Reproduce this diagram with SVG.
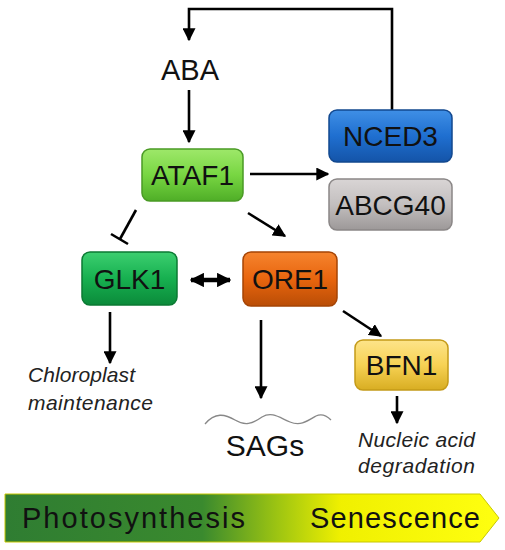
<svg xmlns="http://www.w3.org/2000/svg" width="505" height="550" viewBox="0 0 505 550">
<defs>
<style>
.t{font-family:"Liberation Sans",Arial,sans-serif;fill:#111;text-anchor:middle}
.bx{font-size:28px}
.it{font-family:"Liberation Sans",Arial,sans-serif;font-style:italic;font-size:21px;fill:#222}
.ln{stroke:#000;stroke-width:2.6;fill:none}
</style>
<marker id="ah" viewBox="0 0 10 10" refX="9" refY="5" markerWidth="5" markerHeight="5" orient="auto" markerUnits="strokeWidth"><path d="M0,0 L10,5 L0,10 z" fill="#000"/></marker>
<marker id="ahs" viewBox="0 0 10 10" refX="9" refY="5" markerWidth="3.2" markerHeight="3.2" orient="auto-start-reverse" markerUnits="strokeWidth"><path d="M0,0 L10,5 L0,10 z" fill="#000"/></marker>
<linearGradient id="gAT" x1="0" y1="0" x2="0" y2="1"><stop offset="0" stop-color="#9ee86a"/><stop offset="0.5" stop-color="#78d642"/><stop offset="1" stop-color="#4fae27"/></linearGradient>
<linearGradient id="gGL" x1="0" y1="0" x2="0" y2="1"><stop offset="0" stop-color="#3ccf70"/><stop offset="0.5" stop-color="#17b050"/><stop offset="1" stop-color="#0b8a3a"/></linearGradient>
<linearGradient id="gOR" x1="0" y1="0" x2="0" y2="1"><stop offset="0" stop-color="#f6842e"/><stop offset="0.5" stop-color="#e8650e"/><stop offset="1" stop-color="#b94d06"/></linearGradient>
<linearGradient id="gNC" x1="0" y1="0" x2="0" y2="1"><stop offset="0" stop-color="#3f8fe6"/><stop offset="0.5" stop-color="#1f6fd0"/><stop offset="1" stop-color="#1454a8"/></linearGradient>
<linearGradient id="gAB" x1="0" y1="0" x2="0" y2="1"><stop offset="0" stop-color="#d9d5d5"/><stop offset="0.5" stop-color="#c3bfbf"/><stop offset="1" stop-color="#9c9898"/></linearGradient>
<linearGradient id="gBF" x1="0" y1="0" x2="0" y2="1"><stop offset="0" stop-color="#fde48a"/><stop offset="0.5" stop-color="#f7d254"/><stop offset="1" stop-color="#d8ad22"/></linearGradient>
<linearGradient id="gBar" x1="0" y1="0" x2="1" y2="0"><stop offset="0" stop-color="#2f7d32"/><stop offset="0.4" stop-color="#3a8a2e"/><stop offset="0.55" stop-color="#9cc412"/><stop offset="0.68" stop-color="#f0f000"/><stop offset="1" stop-color="#ffff10"/></linearGradient>
</defs>
<g id="connectors">
<polyline class="ln" points="392,110 392,9 189,9 189,40" marker-end="url(#ah)"/>
<line class="ln" x1="189" y1="90" x2="189" y2="142" marker-end="url(#ah)"/>
<line class="ln" x1="250" y1="174" x2="328" y2="174" marker-end="url(#ah)"/>
<line class="ln" x1="136" y1="210" x2="120" y2="239"/>
<line class="ln" x1="111" y1="234" x2="128" y2="244"/>
<line class="ln" x1="248" y1="213" x2="285" y2="236" marker-end="url(#ah)"/>
<line x1="191" y1="280" x2="230" y2="280" stroke="#000" stroke-width="4.5" marker-start="url(#ahs)" marker-end="url(#ahs)"/>
<line class="ln" x1="110" y1="312" x2="110" y2="363" marker-end="url(#ah)"/>
<line class="ln" x1="261" y1="320" x2="261" y2="398" marker-end="url(#ah)"/>
<line class="ln" x1="343" y1="311" x2="381" y2="336" marker-end="url(#ah)"/>
<line class="ln" x1="397" y1="396" x2="397" y2="423" marker-end="url(#ah)"/>
</g>
<g id="ABA"><text class="t" x="190" y="80" font-size="29">ABA</text></g>
<g id="ATAF1"><rect x="142" y="149" width="101" height="52" rx="8" fill="url(#gAT)" stroke="#4a9a25" stroke-width="1.5"/><text class="t bx" x="192.5" y="185">ATAF1</text></g>
<g id="NCED3"><rect x="329" y="110" width="123" height="52" rx="8" fill="url(#gNC)" stroke="#12488f" stroke-width="1.5"/><text class="t bx" x="390.5" y="146">NCED3</text></g>
<g id="ABCG40"><rect x="329" y="179" width="123" height="51" rx="8" fill="url(#gAB)" stroke="#8a8686" stroke-width="1.5"/><text class="t bx" x="390.5" y="215">ABCG40</text></g>
<g id="GLK1"><rect x="82" y="252" width="95" height="53" rx="8" fill="url(#gGL)" stroke="#0b7a33" stroke-width="1.5"/><text class="t bx" x="129.5" y="289">GLK1</text></g>
<g id="ORE1"><rect x="243" y="252" width="94" height="54" rx="8" fill="url(#gOR)" stroke="#a54405" stroke-width="1.5"/><text class="t bx" x="290" y="289">ORE1</text></g>
<g id="BFN1"><rect x="355" y="340" width="93" height="50" rx="8" fill="url(#gBF)" stroke="#c49a18" stroke-width="1.5"/><text class="t bx" x="401.5" y="375">BFN1</text></g>
<g id="chloroplast"><text class="it" x="28" y="382" textLength="107">Chloroplast</text><text class="it" x="28" y="410" textLength="125">maintenance</text></g>
<g id="SAGs"><path d="M205,424 C215,412 225,414 235,420 C245,426 252,424 262,417 C272,411 280,418 290,422 C300,426 306,422 316,416 C322,413 327,416 331,420" fill="none" stroke="#888" stroke-width="1.3"/><text class="t" x="265" y="456" font-size="30">SAGs</text></g>
<g id="nucleic"><text class="it" x="358" y="447" textLength="117">Nucleic acid</text><text class="it" x="358" y="473" textLength="117">degradation</text></g>
<g id="bar"><path d="M5,494 L480,494 L499,518 L480,542 L5,542 Z" fill="url(#gBar)" stroke="#c8c800" stroke-width="1"/><text x="22" y="528" font-family="Liberation Sans,Arial,sans-serif" font-size="29" fill="#111" textLength="223">Photosynthesis</text><text x="310" y="528" font-family="Liberation Sans,Arial,sans-serif" font-size="29" fill="#111" textLength="170">Senescence</text></g>
</svg>
